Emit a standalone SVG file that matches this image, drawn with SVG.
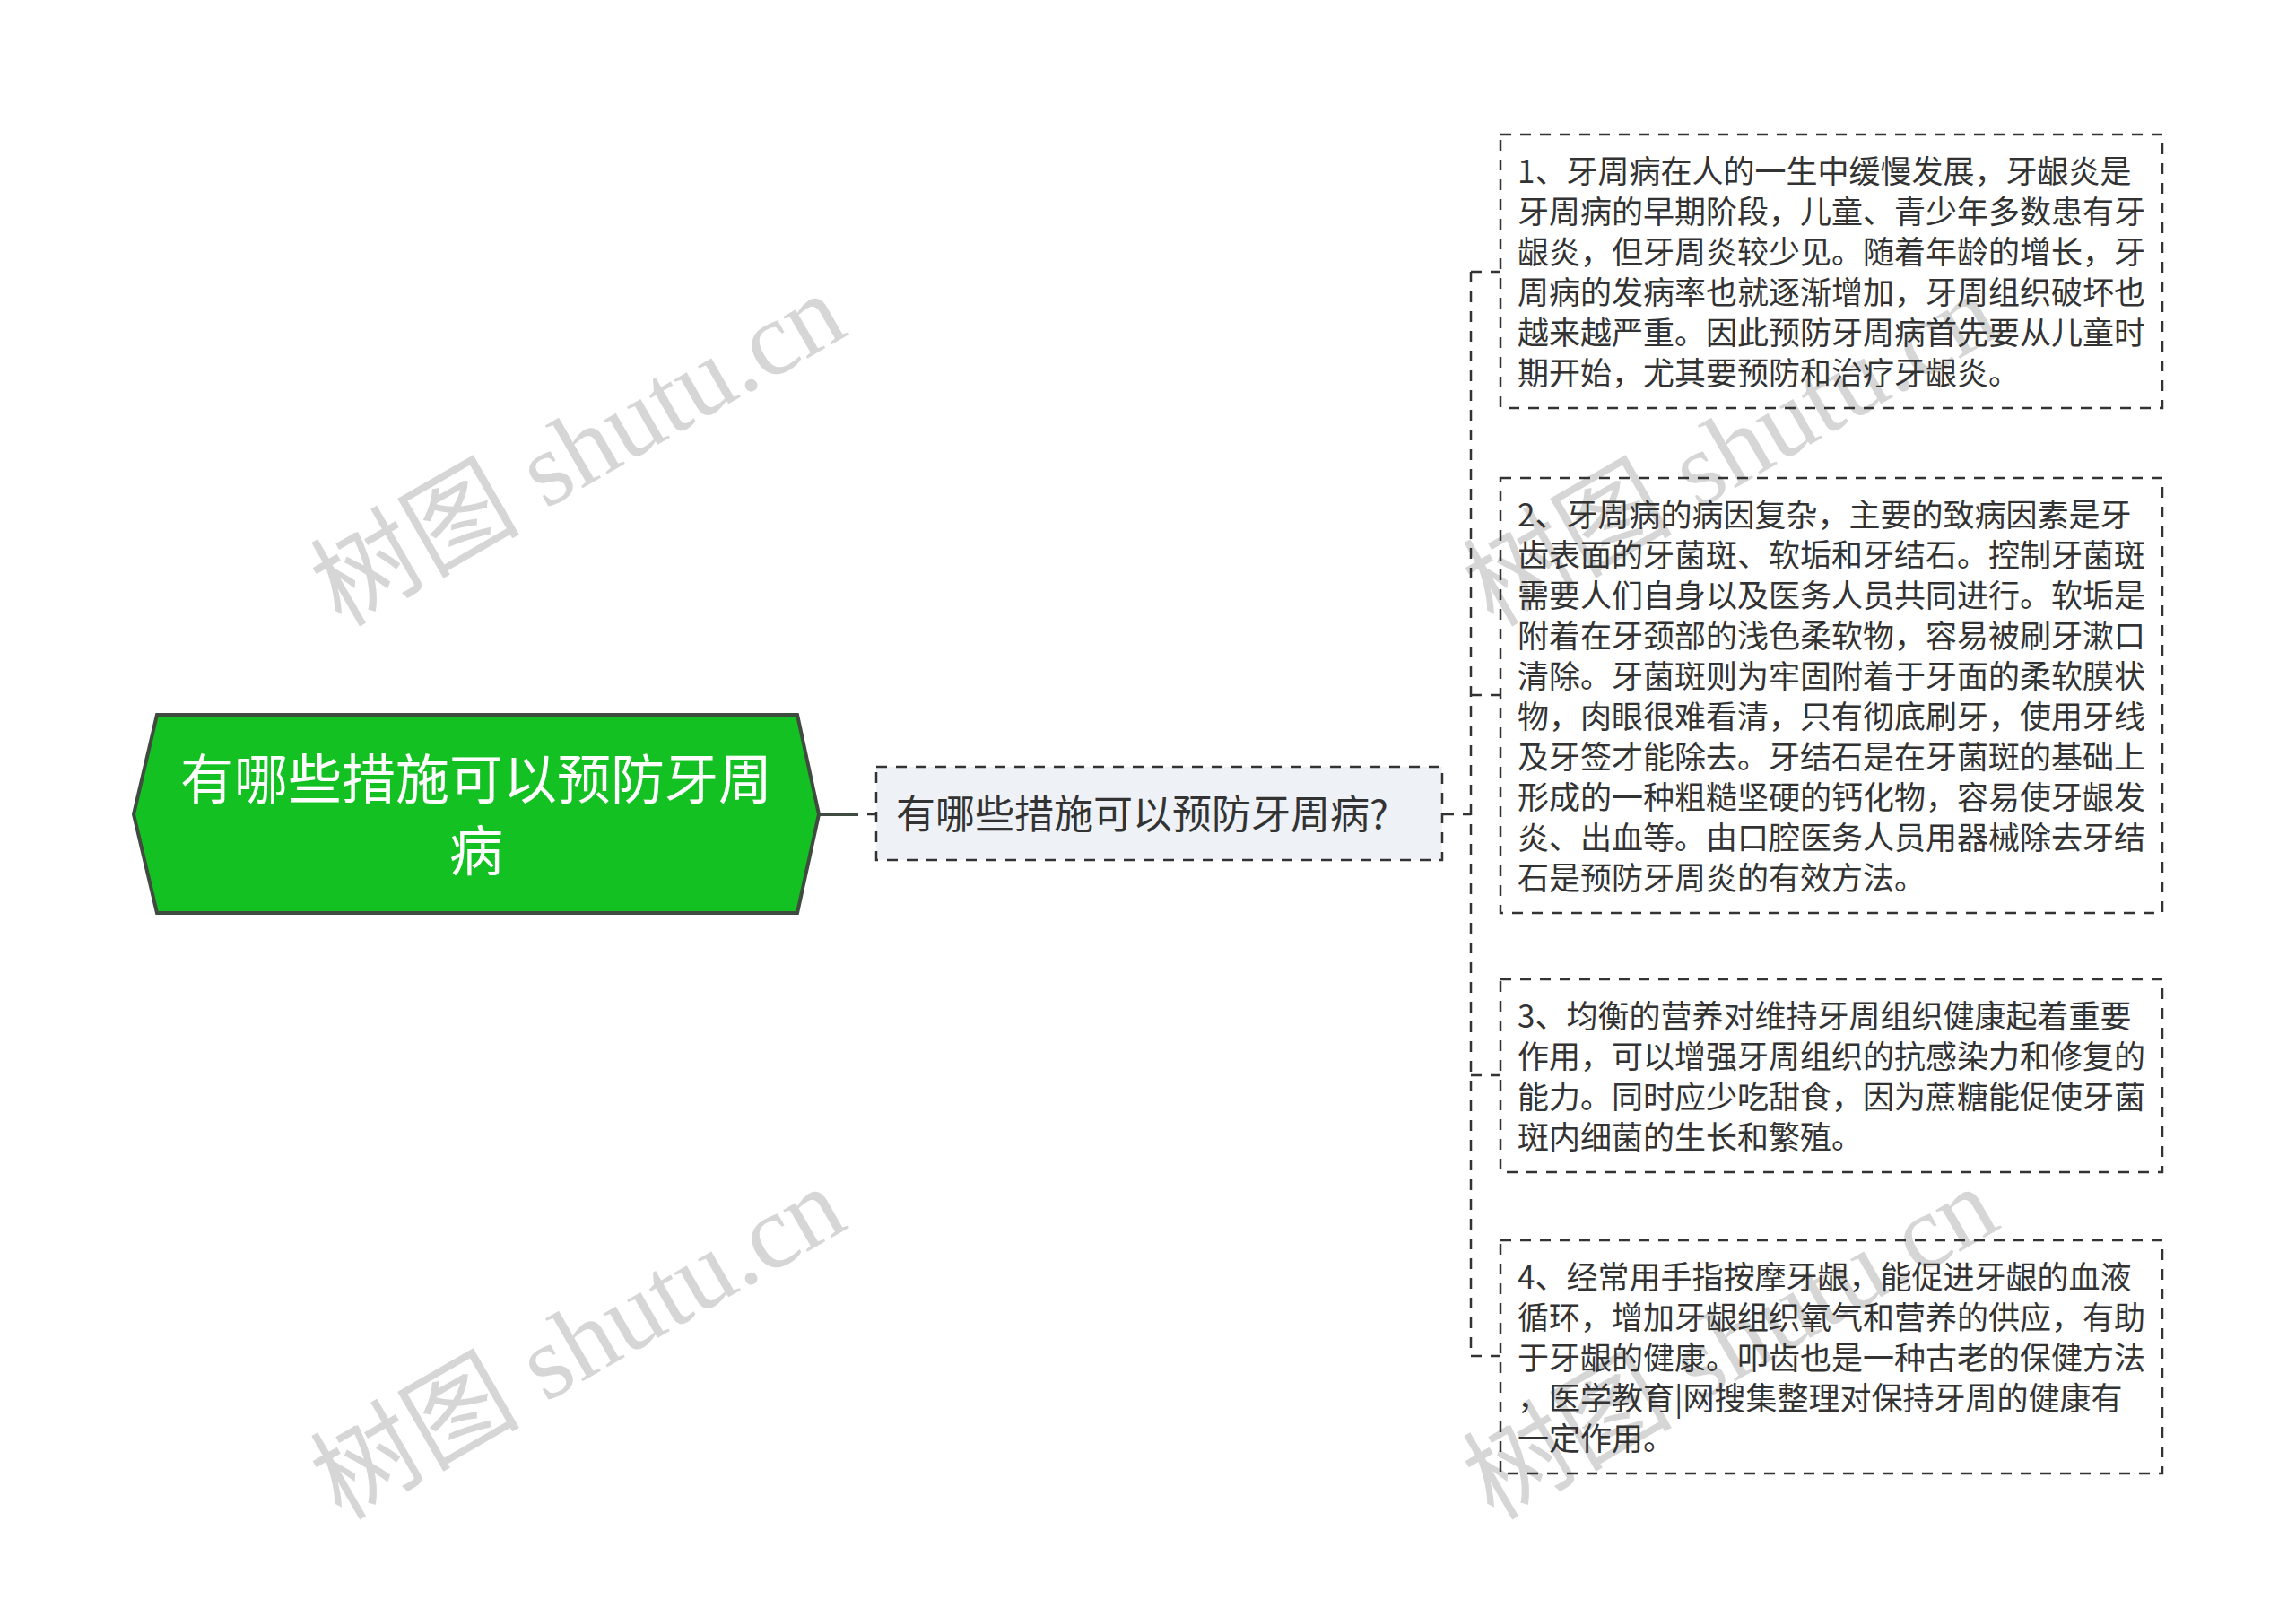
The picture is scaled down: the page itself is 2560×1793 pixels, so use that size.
<svg xmlns="http://www.w3.org/2000/svg" width="2560" height="1793" viewBox="0 0 2560 1793">
<style>
.wm{font-family:"Liberation Serif","Noto Sans CJK SC",serif;font-size:117px;fill:#d6d6d6}
.dash{fill:none;stroke:#333333;stroke-width:2.5;stroke-dasharray:12 10}
.leaf{fill:none;stroke:#333333;stroke-width:2.5;stroke-dasharray:12 10}
.lt{font-family:"Noto Sans CJK SC","Microsoft YaHei",sans-serif;font-size:35px;fill:#333333}
</style>
<rect width="2560" height="1793" fill="#ffffff"/>
<g id="watermarks">
<text class="wm" x="380" y="700" transform="rotate(-30 380 700)">树图 shutu.cn</text>
<text class="wm" x="1665" y="700" transform="rotate(-30 1665 700)">树图 shutu.cn</text>
<text class="wm" x="380" y="1696" transform="rotate(-30 380 1696)">树图 shutu.cn</text>
<text class="wm" x="1665" y="1696" transform="rotate(-30 1665 1696)">树图 shutu.cn</text>
</g>
<g id="connectors">
<line x1="913" y1="908" x2="957" y2="908" stroke="#404b40" stroke-width="4"/>
<line x1="967" y1="908" x2="977" y2="908" stroke="#333333" stroke-width="2.5"/>
<line x1="1609" y1="908" x2="1640" y2="908" class="dash"/>
<line x1="1640" y1="303" x2="1640" y2="1512" class="dash"/>
<line x1="1640" y1="303" x2="1672" y2="303" class="dash"/>
<line x1="1640" y1="775" x2="1672" y2="775" class="dash"/>
<line x1="1640" y1="1199" x2="1672" y2="1199" class="dash"/>
<line x1="1640" y1="1512" x2="1672" y2="1512" class="dash"/>
</g>
<g id="root">
<polygon points="149,908 175,797 889,797 913,908 889,1018 175,1018" fill="#14c122" stroke="#404b40" stroke-width="4"/>
<text x="531" y="891" text-anchor="middle" font-family="Noto Sans CJK SC, Microsoft YaHei, sans-serif" font-size="60" fill="#ffffff">有哪些措施可以预防牙周</text>
<text x="531" y="971" text-anchor="middle" font-family="Noto Sans CJK SC, Microsoft YaHei, sans-serif" font-size="60" fill="#ffffff">病</text>
</g>
<g id="main">
<rect x="977" y="855" width="631" height="104" fill="#eef1f5" stroke="#333333" stroke-width="2.5" stroke-dasharray="12 10"/>
<text x="999" y="924" font-family="Noto Sans CJK SC, Microsoft YaHei, sans-serif" font-size="44" fill="#333333">有哪些措施可以预防牙周病?</text>
</g>
<g id="n1">
<rect class="leaf" x="1673" y="150" width="738" height="305"/>
<text class="lt" x="1692" y="204">1、牙周病在人的一生中缓慢发展，牙龈炎是</text>
<text class="lt" x="1692" y="249">牙周病的早期阶段，儿童、青少年多数患有牙</text>
<text class="lt" x="1692" y="294">龈炎，但牙周炎较少见。随着年龄的增长，牙</text>
<text class="lt" x="1692" y="339">周病的发病率也就逐渐增加，牙周组织破坏也</text>
<text class="lt" x="1692" y="384">越来越严重。因此预防牙周病首先要从儿童时</text>
<text class="lt" x="1692" y="429">期开始，尤其要预防和治疗牙龈炎。</text>
</g>
<g id="n2">
<rect class="leaf" x="1673" y="533" width="738" height="485"/>
<text class="lt" x="1692" y="587">2、牙周病的病因复杂，主要的致病因素是牙</text>
<text class="lt" x="1692" y="632">齿表面的牙菌斑、软垢和牙结石。控制牙菌斑</text>
<text class="lt" x="1692" y="677">需要人们自身以及医务人员共同进行。软垢是</text>
<text class="lt" x="1692" y="722">附着在牙颈部的浅色柔软物，容易被刷牙漱口</text>
<text class="lt" x="1692" y="767">清除。牙菌斑则为牢固附着于牙面的柔软膜状</text>
<text class="lt" x="1692" y="812">物，肉眼很难看清，只有彻底刷牙，使用牙线</text>
<text class="lt" x="1692" y="857">及牙签才能除去。牙结石是在牙菌斑的基础上</text>
<text class="lt" x="1692" y="902">形成的一种粗糙坚硬的钙化物，容易使牙龈发</text>
<text class="lt" x="1692" y="947">炎、出血等。由口腔医务人员用器械除去牙结</text>
<text class="lt" x="1692" y="992">石是预防牙周炎的有效方法。</text>
</g>
<g id="n3">
<rect class="leaf" x="1673" y="1092" width="738" height="215"/>
<text class="lt" x="1692" y="1146">3、均衡的营养对维持牙周组织健康起着重要</text>
<text class="lt" x="1692" y="1191">作用，可以增强牙周组织的抗感染力和修复的</text>
<text class="lt" x="1692" y="1236">能力。同时应少吃甜食，因为蔗糖能促使牙菌</text>
<text class="lt" x="1692" y="1281">斑内细菌的生长和繁殖。</text>
</g>
<g id="n4">
<rect class="leaf" x="1673" y="1383" width="738" height="260"/>
<text class="lt" x="1692" y="1437">4、经常用手指按摩牙龈，能促进牙龈的血液</text>
<text class="lt" x="1692" y="1482">循环，增加牙龈组织氧气和营养的供应，有助</text>
<text class="lt" x="1692" y="1527">于牙龈的健康。叩齿也是一种古老的保健方法</text>
<text class="lt" x="1692" y="1572">，医学教育|网搜集整理对保持牙周的健康有</text>
<text class="lt" x="1692" y="1617">一定作用。</text>
</g>
</svg>
